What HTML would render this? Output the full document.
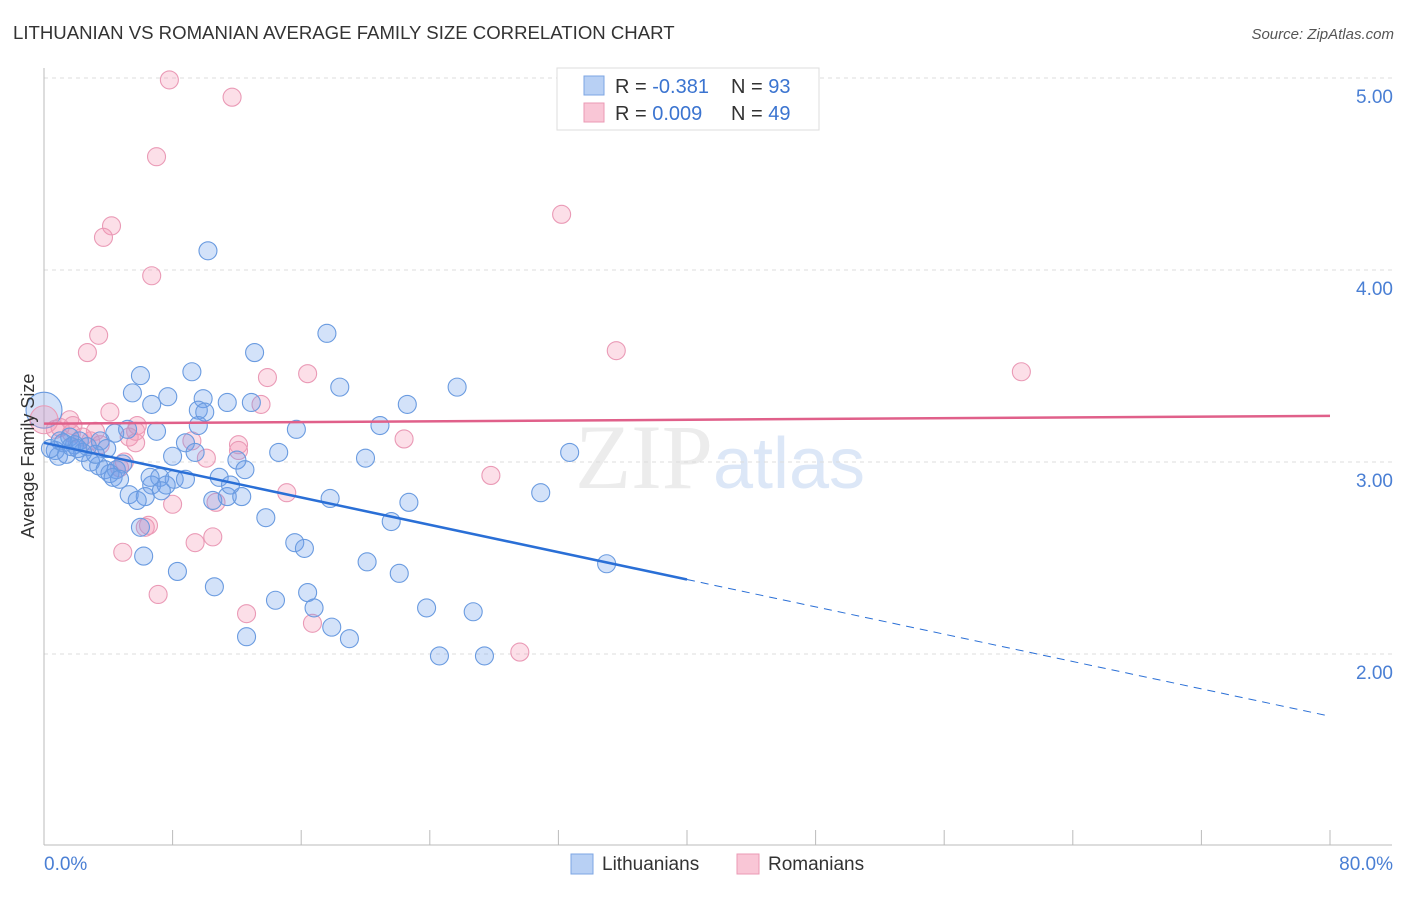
<!DOCTYPE html>
<html><head><meta charset="utf-8"><style>
body{margin:0;background:#fff;font-family:"Liberation Sans",sans-serif}
</style></head><body>
<svg id="c" width="1406" height="892" xmlns="http://www.w3.org/2000/svg" font-family="Liberation Sans, sans-serif">
<text x="13" y="39" font-size="18.6" fill="#333">LITHUANIAN VS ROMANIAN AVERAGE FAMILY SIZE CORRELATION CHART</text>
<text x="1394" y="39" font-size="15" fill="#555" text-anchor="end" font-style="italic">Source: ZipAtlas.com</text>
<text x="720" y="488" font-size="92" text-anchor="middle" fill="#ececec" font-family="Liberation Serif, serif">ZIP<tspan fill="#dce7f7" font-family="Liberation Sans, sans-serif" font-size="72">atlas</tspan></text>
<g id="grid"></g><g id="axes"></g><g id="pts"></g><g id="trend"></g>
<text transform="translate(34,456) rotate(-90)" font-size="18" fill="#333" text-anchor="middle">Average Family Size</text>
<g>
<rect x="557" y="68" width="262" height="62" fill="#fff" stroke="#ddd"/>
<rect x="584" y="76" width="20" height="19" fill="#b8d0f4" stroke="#7da6e3"/>
<rect x="584" y="103" width="20" height="19" fill="#f9c6d6" stroke="#eb9ab4"/>
<text x="615" y="93" font-size="20" fill="#333">R = <tspan fill="#3b74d0">-0.381</tspan><tspan x="731">N = </tspan><tspan fill="#3b74d0">93</tspan></text>
<text x="615" y="120" font-size="20" fill="#333">R = <tspan fill="#3b74d0">0.009</tspan><tspan x="731">N = </tspan><tspan fill="#3b74d0">49</tspan></text>
</g>
<g>
<rect x="571" y="854" width="22" height="20" fill="#b8d0f4" stroke="#7da6e3"/>
<text x="602" y="870" font-size="19" fill="#333">Lithuanians</text>
<rect x="737" y="854" width="22" height="20" fill="#f9c6d6" stroke="#eb9ab4"/>
<text x="768" y="870" font-size="19" fill="#333">Romanians</text>
</g>
</svg>
<script>
const yTicks=[2,3,4,5];
const yTickLabels=["2.00","3.00","4.00","5.00"];
const xTickVals=[0,8,16,24,32,40,48,56,64,72,80];
const blueX=[10.2,17.6,13.1,6.0,9.2,5.5,7.7,18.4,25.7,6.7,9.9,11.4,12.9,9.6,10.0,22.6,20.9,15.7,9.6,4.4,5.2,8.8,7.0,1.0,1.6,2.2,3.5,2.7,3.9,0.7,0.9,8.0,9.4,14.6,12.0,20.0,32.7,2.9,3.4,4.9,3.8,4.5,4.1,12.5,10.9,7.2,8.1,8.8,6.7,7.6,7.3,5.3,6.3,5.8,11.4,12.3,17.8,22.7,30.9,13.8,21.6,6.0,15.6,16.2,6.2,20.1,35.0,8.3,22.1,10.6,14.4,16.4,16.8,23.8,26.7,17.9,12.6,19.0,24.6,27.4,0.4,1.9,3.2,4.3,1.2,2.4,4.7,11.6,10.5,6.6,1.4,1.7,2.1];
const blueY=[4.10,3.67,3.57,3.45,3.47,3.36,3.34,3.39,3.39,3.30,3.33,3.31,3.31,3.27,3.26,3.30,3.19,3.17,3.19,3.15,3.17,3.10,3.16,3.11,3.13,3.11,3.11,3.08,3.07,3.06,3.03,3.03,3.05,3.05,3.01,3.02,3.05,3.00,2.98,2.99,2.96,2.96,2.94,2.96,2.92,2.92,2.91,2.91,2.88,2.88,2.85,2.83,2.82,2.80,2.82,2.82,2.81,2.79,2.84,2.71,2.69,2.66,2.58,2.55,2.51,2.48,2.47,2.43,2.42,2.35,2.28,2.32,2.24,2.24,2.22,2.14,2.09,2.08,1.99,1.99,3.07,3.09,3.04,2.92,3.10,3.05,2.91,2.88,2.80,2.92,3.04,3.08,3.07];
const pinkX=[7.8,11.7,7.0,32.2,4.2,3.7,6.7,3.4,2.7,35.6,60.8,16.4,13.9,13.5,4.1,1.6,1.8,5.8,1.7,3.2,2.4,5.3,5.7,9.2,12.1,12.1,22.4,10.1,5.0,4.7,15.1,10.7,8.0,27.8,6.3,6.5,10.5,9.4,4.9,7.1,12.6,16.7,29.6,1.0,3.5,0.7,2.9,5.7];
const pinkY=[4.99,4.90,4.59,4.29,4.23,4.17,3.97,3.66,3.57,3.58,3.47,3.46,3.44,3.30,3.26,3.22,3.19,3.19,3.15,3.16,3.13,3.13,3.10,3.11,3.09,3.06,3.12,3.02,3.00,2.97,2.84,2.79,2.78,2.93,2.66,2.67,2.61,2.58,2.53,2.31,2.21,2.16,2.01,3.18,3.09,3.17,3.11,3.16];
const blueTrend=[3.10,-0.01780];
const pinkTrend=[3.20,0.0005];
const NS="http://www.w3.org/2000/svg";
const X=v=>44+v*(1286/80), Y=v=>78+(5-v)*192;
function mk(p,t,a){const e=document.createElementNS(NS,t);for(const k in a)e.setAttribute(k,a[k]);p.appendChild(e);return e;}
const grid=document.getElementById('grid'),axes=document.getElementById('axes'),pts=document.getElementById('pts'),tr=document.getElementById('trend');
yTicks.forEach((v,i)=>{
 const l=mk(grid,'line',{x1:44,x2:1392,y1:Y(v),y2:Y(v),stroke:'#ddd','stroke-dasharray':'4,4'});
 
 
 const t=mk(axes,'text',{x:1393,y:Y(v)+25,'font-size':19,fill:'#4a7fd4','text-anchor':'end'});t.textContent=yTickLabels[i];
 
 
});
const ax=mk(axes,'line',{x1:44,x2:44,y1:68,y2:845,stroke:'#bbb'});


const bx=mk(axes,'line',{x1:44,x2:1392,y1:845,y2:845,stroke:'#bbb'});


xTickVals.forEach(v=>{const t=mk(axes,'line',{x1:X(v),x2:X(v),y1:830,y2:845,stroke:'#bbb'});
 
 });
const x0=mk(axes,'text',{x:44,y:870,'font-size':19,fill:'#4a7fd4'});x0.textContent='0.0%';


const x1=mk(axes,'text',{x:1393,y:870,'font-size':19,fill:'#4a7fd4','text-anchor':'end'});x1.textContent='80.0%';


function dot(x,y,r,f,s,n){const c=mk(pts,'circle',{cx:X(x),cy:Y(y),r:r,fill:f,stroke:s,'stroke-width':1.1});
 
 }
pinkX.forEach((x,i)=>dot(x,pinkY[i],9,'rgba(244,150,180,0.3)','#ea9ab6','romanian-point'));
blueX.forEach((x,i)=>dot(x,blueY[i],9,'rgba(110,160,235,0.3)','#6a9be0','lithuanian-point'));
dot(0,3.27,18,'rgba(110,160,235,0.3)','#6a9be0','lithuanian-point-large');
dot(0,3.22,14,'rgba(244,150,180,0.3)','#ea9ab6','romanian-point-large');
const bl=mk(tr,'line',{x1:X(0),y1:Y(blueTrend[0]),x2:X(40),y2:Y(blueTrend[0]+blueTrend[1]*40),stroke:'#2a6fd6','stroke-width':2.5});


const bd=mk(tr,'line',{x1:X(40),y1:Y(blueTrend[0]+blueTrend[1]*40),x2:X(80),y2:Y(blueTrend[0]+blueTrend[1]*80),stroke:'#2a6fd6','stroke-width':1,'stroke-dasharray':'8,6'});


const pl=mk(tr,'line',{x1:X(0),y1:Y(pinkTrend[0]),x2:X(80),y2:Y(pinkTrend[0]+pinkTrend[1]*80),stroke:'#e0608a','stroke-width':2.5});


</script>
</body></html>
